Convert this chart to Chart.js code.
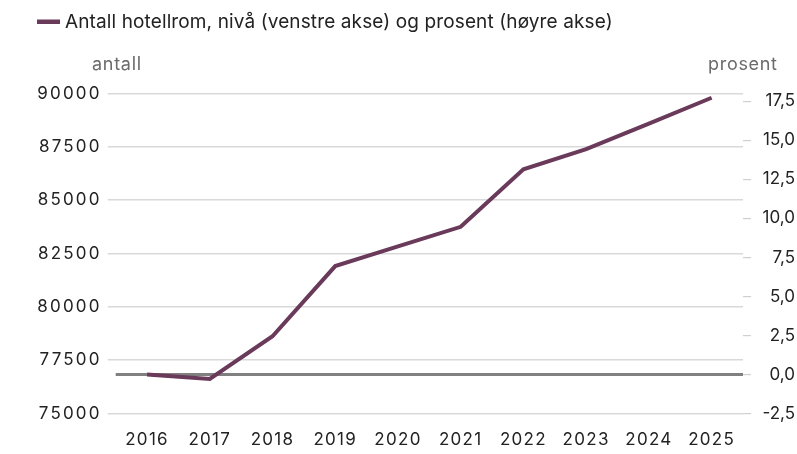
<!DOCTYPE html>
<html><head><meta charset="utf-8">
<script src="https://cdn.jsdelivr.net/npm/chart.js@4.4.1/dist/chart.umd.min.js"></script>
<style>html,body{margin:0;padding:0;background:#fff}#wrap{width:797px;height:454px;position:relative}</style>
</head><body><div id="wrap"><canvas id="c"></canvas></div>
<script>
const years = ['2016','2017','2018','2019','2020','2021','2022','2023','2024','2025'];
const hotellrom = [76830, 76620, 78620, 81910, 82830, 83750, 86450, 87390, 88590, 89800];
const leftTicks = [75000, 77500, 80000, 82500, 85000, 87500, 90000];
const rightTicks = [-2.5, 0, 2.5, 5, 7.5, 10, 12.5, 15, 17.5];
const legendLabel = 'Antall hotellrom, nivå (venstre akse) og prosent (høyre akse)';
const leftTitle = 'antall';
const rightTitle = 'prosent';

const FONT = 'Inter';
const LINE_COLOR = '#6a3a5a';
const TEXT = '#222222';

const overlay = {
  id: 'overlay',
  beforeDatasetsDraw(chart) {
    const {ctx, chartArea, scales} = chart;
    const y0 = scales.y2.getPixelForValue(0);
    ctx.save();
    ctx.strokeStyle = '#808080';
    ctx.lineWidth = 3;
    ctx.beginPath();
    ctx.moveTo(chartArea.left, y0);
    ctx.lineTo(chartArea.right, y0);
    ctx.stroke();
    ctx.restore();
  },
  afterDraw(chart) {
    const {ctx} = chart;
    ctx.save();
    // legend
    ctx.fillStyle = LINE_COLOR;
    ctx.fillRect(37, 19.5, 23, 4.5);
    ctx.fillStyle = TEXT;
    ctx.font = '19px ' + FONT;
    ctx.letterSpacing = '0.12px';
    ctx.textBaseline = 'alphabetic';
    ctx.textAlign = 'left';
    ctx.fillText(legendLabel, 65, 28);
    // axis titles
    ctx.fillStyle = '#6b6b6b';
    ctx.font = '18px ' + FONT;
    ctx.letterSpacing = '0.7px';
    ctx.textAlign = 'left';
    ctx.fillText(leftTitle, 92, 70);
    ctx.textAlign = 'right';
    ctx.fillText(rightTitle, 777.7, 70);
    ctx.letterSpacing = '0px';
    ctx.restore();
  }
};

const chart = new Chart(document.getElementById('c'), {
  type: 'line',
  data: {
    labels: years,
    datasets: [{
      label: legendLabel,
      data: hotellrom,
      yAxisID: 'y',
      borderColor: LINE_COLOR,
      borderWidth: 4,
      pointRadius: 0,
      tension: 0,
      fill: false
    }]
  },
  options: {
    responsive: true,
    maintainAspectRatio: false,
    animation: false,
    devicePixelRatio: 1,
    layout: {padding: {top: 93.5, right: 2, bottom: 0, left: 0}},
    plugins: {legend: {display: false}, tooltip: {enabled: false}},
    scales: {
      x: {
        type: 'category',
        offset: true,
        grid: {display: false, drawTicks: false},
        border: {display: false},
        ticks: {color: TEXT, font: {family: FONT, size: 17}, padding: 16, maxRotation: 0, autoSkip: false},
        afterFit(s) { s.height = 40.5; }
      },
      y: {
        position: 'left',
        min: 75000, max: 90000,
        afterBuildTicks(s) { s.ticks = leftTicks.map(v => ({value: v})); },
        grid: {color: '#d9d9d9', lineWidth: 1.5, tickLength: 8, tickColor: '#d9d9d9'},
        border: {display: false},
        ticks: {color: TEXT, font: {family: FONT, size: 17}, padding: 6, callback: v => String(v)},
        afterFit(s) { s.width = 115.7; }
      },
      y2: {
        position: 'right',
        min: -2.5, max: 18,
        afterBuildTicks(s) { s.ticks = rightTicks.map(v => ({value: v})); },
        grid: {drawOnChartArea: false, color: '#d0d0d0', lineWidth: 1.2, tickLength: 8},
        border: {display: false},
        ticks: {color: TEXT, font: {family: FONT, size: 17}, padding: 8, crossAlign: 'far',
          callback: v => Number(v).toFixed(1).replace('.', ',')},
        afterFit(s) { s.width = 52; }
      }
    }
  },
  plugins: [overlay]
});

function spaced(scale, spacing) {
  const orig = scale.drawLabels.bind(scale);
  scale.drawLabels = function(area) {
    const ctx = this.ctx;
    const prev = ctx.letterSpacing;
    ctx.letterSpacing = spacing;
    orig(area);
    ctx.letterSpacing = prev || '0px';
  };
}
spaced(chart.scales.y, '2.2px');
spaced(chart.scales.x, '1.3px');
chart.draw();
</script>
</body></html>
